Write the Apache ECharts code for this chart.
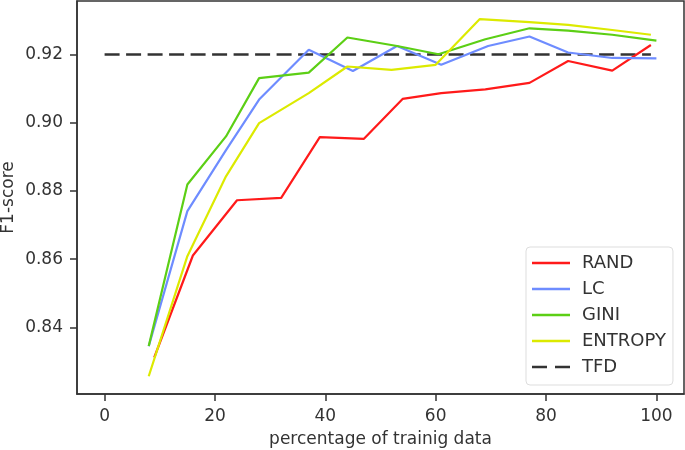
<!DOCTYPE html>
<html>
<head>
<meta charset="utf-8">
<script src="https://cdn.jsdelivr.net/npm/echarts@6/dist/echarts.min.js"></script>
<style>html,body{margin:0;padding:0;background:#fff}#c{width:685px;height:450px}</style>
</head>
<body>
<div id="c"></div>
<script>
const xTicks = [0, 20, 40, 60, 80, 100];
const yTicks = [0.84, 0.86, 0.88, 0.90, 0.92];

const randX = [9, 16, 24, 32, 39, 47, 54, 61, 69, 77, 84, 92, 99];
const randY = [0.8312, 0.8611, 0.8773, 0.8780, 0.8958, 0.8953, 0.9070, 0.9087, 0.9098, 0.9117, 0.9181, 0.9153, 0.9228];

const lcX = [8, 15, 22, 28, 37, 45, 53, 61, 69.5, 77, 84, 92, 100];
const lcY = [0.8345, 0.8741, 0.8920, 0.9068, 0.9214, 0.9152, 0.9225, 0.9170, 0.9225, 0.9253, 0.9206, 0.9190, 0.9189];

const giniX = [8, 15, 22, 28, 37, 44, 53, 60.5, 69, 77, 84, 92, 100];
const giniY = [0.8346, 0.8819, 0.8960, 0.9131, 0.9147, 0.9250, 0.9225, 0.9201, 0.9245, 0.9277, 0.9270, 0.9258, 0.9241];

const entX = [8, 15, 22, 28, 37, 44, 52, 60, 68, 77, 84, 92, 99];
const entY = [0.8257, 0.8609, 0.8843, 0.8999, 0.9087, 0.9165, 0.9155, 0.9170, 0.9304, 0.9295, 0.9287, 0.9272, 0.9258];

const tfdX = [0, 99];
const tfdY = [0.92, 0.92];

const zip = (xs, ys) => xs.map((x, i) => [x, ys[i]]);
const FONT = 'DejaVu Sans';
const TXT = '#333';
const SOLID_ICON = 'path://M0,0H38V2.5H0Z';
const DASH_ICON = 'path://M0,0H15V2.5H0Z M23,0H38V2.5H23Z';

function line(name, xs, ys, color, extra) {
  return Object.assign({
    name: name, type: 'line', data: zip(xs, ys), symbol: 'none', showSymbol: false,
    lineStyle: { color: color, width: 2.2 }, itemStyle: { color: color }, animation: false
  }, extra || {});
}

const chart = echarts.init(document.getElementById('c'), null, { renderer: 'canvas' });
chart.setOption({
  animation: false,
  textStyle: { fontFamily: FONT },
  grid: { left: 77, right: 1, top: 1, bottom: 56, show: true, borderColor: '#333', borderWidth: 1.5,
    containLabel: false, outerBoundsMode: 'none' },
  xAxis: {
    type: 'value', min: -5, max: 105,
    name: 'percentage of trainig data', nameLocation: 'middle', nameGap: 37,
    nameTextStyle: { fontFamily: FONT, fontSize: 17, color: TXT },
    axisLine: { show: true, onZero: false, lineStyle: { color: '#333', width: 1.5 } },
    axisTick: { show: true, customValues: xTicks, length: 7, lineStyle: { color: '#333', width: 1.5 } },
    axisLabel: { customValues: xTicks, fontFamily: FONT, fontSize: 17, color: TXT, margin: 14 },
    splitLine: { show: false }
  },
  yAxis: {
    type: 'value', min: 0.8205, max: 0.9357,
    name: 'F1-score', nameLocation: 'middle', nameGap: 60, nameRotate: 90, nameMoveOverlap: false,
    nameTextStyle: { fontFamily: FONT, fontSize: 17, color: TXT },
    axisLine: { show: true, onZero: false, lineStyle: { color: '#333', width: 1.5 } },
    axisTick: { show: true, customValues: yTicks, length: 7, lineStyle: { color: '#333', width: 1.5 } },
    axisLabel: { customValues: yTicks, fontFamily: FONT, fontSize: 17, color: TXT, margin: 14,
      formatter: v => v.toFixed(2) },
    splitLine: { show: false }
  },
  legend: {
    orient: 'vertical', left: 526, top: 247,
    padding: [7, 7, 9, 6],
    itemWidth: 38, itemHeight: 2.5, itemGap: 8,
    backgroundColor: '#fff', borderColor: '#ddd', borderWidth: 1, borderRadius: 4,
    textStyle: { fontFamily: FONT, fontSize: 18, color: TXT, lineHeight: 18, padding: [0, 0, 0, 7] },
    data: [
      { name: 'RAND', icon: SOLID_ICON },
      { name: 'LC', icon: SOLID_ICON },
      { name: 'GINI', icon: SOLID_ICON },
      { name: 'ENTROPY', icon: SOLID_ICON },
      { name: 'TFD', icon: DASH_ICON }
    ]
  },
  series: [
    line('TFD', tfdX, tfdY, '#333', { lineStyle: { color: '#333', width: 2.5, type: [15, 6.5] }, z: 1 }),
    line('RAND', randX, randY, '#ff1a1a'),
    line('LC', lcX, lcY, '#6e8cff'),
    line('GINI', giniX, giniY, '#5ccf15'),
    line('ENTROPY', entX, entY, '#dcea00')
  ]
});
</script>
</body>
</html>
